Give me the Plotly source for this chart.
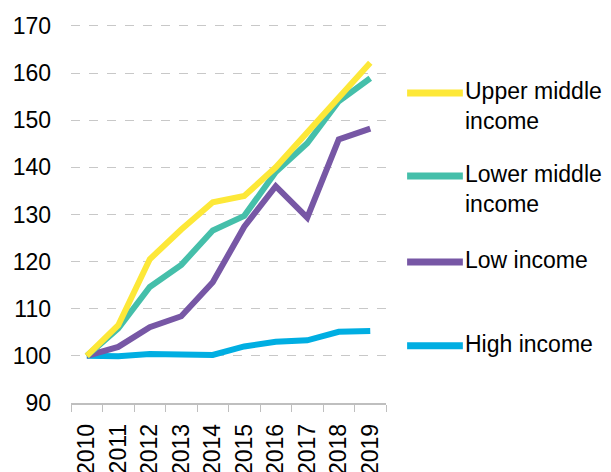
import plotly.graph_objects as go

years = ["2010", "2011", "2012", "2013", "2014", "2015", "2016", "2017", "2018", "2019"]

upper_middle = [100, 106.5, 120.5, 126.8, 132.6, 133.9, 140.0, 147.3, 154.6, 162.2]
lower_middle = [100, 105.8, 114.6, 119.3, 126.6, 129.7, 139.0, 145.1, 154.0, 158.9]
low_income = [100, 101.9, 106.1, 108.4, 115.6, 127.4, 136.0, 129.3, 145.9, 148.2]
high_income = [100, 99.9, 100.4, 100.4, 100.2, 102.0, 103.0, 103.3, 105.1, 105.3]

series_names = ["Upper middle<br>income", "Lower middle<br>income", "Low income", "High income"]
series_values = [upper_middle, lower_middle, low_income, high_income]
colors = ["#FDE838", "#45BFAA", "#7757A5", "#00AEE2"]

# legend rows (paper y of each swatch), drawn by hand so the swatch is long like the original
legend_y = [0.818, 0.599, 0.372, 0.151]

font = "Liberation Sans, Arial, sans-serif"

fig = go.Figure()

# draw in reverse so the yellow line sits on top
for name, vals, col in reversed(list(zip(series_names, series_values, colors))):
    fig.add_trace(go.Scatter(x=years, y=vals, mode="lines", name=name,
                             line=dict(color=col, width=6), showlegend=False))

for name, col, ly in zip(series_names, colors, legend_y):
    fig.add_shape(type="line", xref="paper", yref="paper",
                  x0=1.067, x1=1.244, y0=ly, y1=ly,
                  line=dict(color=col, width=7))
    fig.add_annotation(xref="paper", yref="paper", x=1.246, y=ly + 0.044,
                       text=name, showarrow=False, xanchor="left", yanchor="top",
                       align="left", font=dict(family=font, size=23, color="#000000"))

# page body has an 8px margin, so the figure is 8px smaller and shifted up/left
fig.update_layout(
    width=603, height=464,
    margin=dict(l=63, r=225, t=16, b=69, autoexpand=False),
    paper_bgcolor="white", plot_bgcolor="white",
    font=dict(family=font, size=23, color="#000000"),
    showlegend=False,
)

fig.update_xaxes(type="category", range=[-0.5, 9.5], tickangle=-90, automargin=False,
                 showgrid=False, showline=True, linecolor="#BFBFBF", linewidth=1.5,
                 ticks="outside", ticklen=7, tickcolor="#BFBFBF", tickson="boundaries",
                 ticklabelstandoff=10,
                 tickfont=dict(family=font, size=23, color="#000000"))

fig.update_yaxes(range=[90, 170.4], tickvals=[90, 100, 110, 120, 130, 140, 150, 160, 170],
                 showgrid=True, gridcolor="#C8C8C8", automargin=False,
                 griddash="dash", gridwidth=1, zeroline=False, showline=False,
                 ticklabelstandoff=19,
                 tickfont=dict(family=font, size=23, color="#000000"))

fig.write_html("out.html")
